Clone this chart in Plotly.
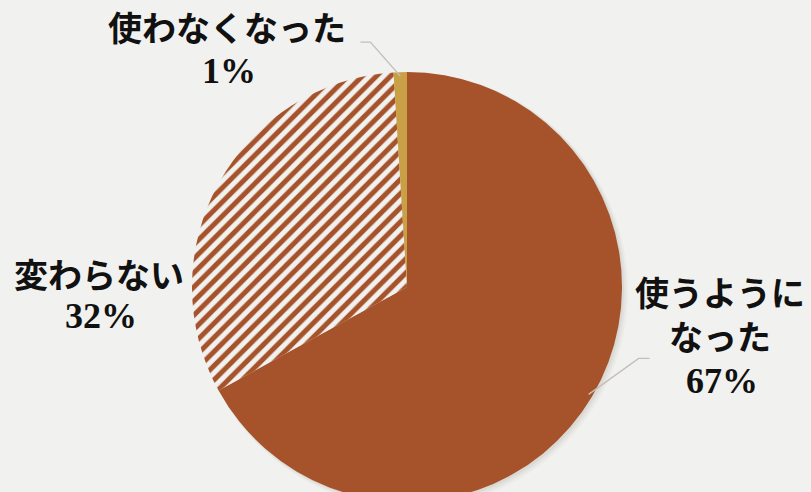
import math
import plotly.graph_objects as go

# ---- data ----
categories = ["使うようになった", "変わらない", "使わなくなった"]
label_names = ["使うように<br>なった", "変わらない", "使わなくなった"]
values = [67, 32, 1]
pct_labels = ["67%", "32%", "1%"]

# ---- styling ----
W, H = 811, 502          # figure slightly taller than the 492 window: pie is cut at bottom
BROWN = "#A6522A"
GOLD = "#C9A045"
BG = "#F1F1EF"
JP_FONT = "Noto Sans CJK JP"
NUM_FONT = "Liberation Serif"

cx, cy, R = 407, 287, 215  # pixel centre / radius of pie

def px(x):
    return x / W

def py(y):
    return 1 - y / H

fig = go.Figure()

# soft shadow behind the pie
for k, op in [(6, 0.035), (4, 0.05), (2, 0.07)]:
    fig.add_shape(type="circle", xref="paper", yref="paper", layer="below",
                  x0=px(cx - R + 2), x1=px(cx + R + k), y0=py(cy + R + k), y1=py(cy - R + 1),
                  fillcolor=f"rgba(90,80,70,{op})", line=dict(width=0))

fig.add_trace(go.Pie(
    labels=categories,
    values=values,
    sort=False,
    direction="clockwise",
    rotation=0,
    textinfo="none",
    hoverinfo="label+percent",
    showlegend=False,
    domain=dict(x=[px(cx - R), px(cx + R)], y=[py(cy + R), py(cy - R)]),
    marker=dict(
        colors=[BROWN, "#FFFFFF", GOLD],
        line=dict(width=0),
        pattern=dict(shape=["", "/", ""], fgcolor=BROWN, size=10, solidity=0.5),
    ),
))

# mid angles of slices (clockwise from 12 o'clock)
total = sum(values)
mids = []
acc = 0
for v in values:
    mids.append((acc + v / 2) / total * 2 * math.pi)
    acc += v

def edge_point(i, inset=0):
    a = mids[i]
    return cx + (R - inset) * math.sin(a), cy - (R - inset) * math.cos(a)

# leader lines: (slice index, elbow offset dx, dy, horizontal tail)
leaders = [(0, 50, -36, 11), (2, -30, -34, -10)]
for i, dx, dy, tail in leaders:
    x0, y0 = edge_point(i, inset=4)
    x1, y1 = x0 + dx, y0 + dy
    x2 = x1 + tail
    path = f"M {px(x0)},{py(y0)} L {px(x1)},{py(y1)} L {px(x2)},{py(y1)}"
    fig.add_shape(type="path", path=path, xref="paper", yref="paper",
                  line=dict(color="#C4BFB8", width=1.4))

# label positions (pixel centres): x, centre y of name block, centre y of percent
label_pos = [
    (720, 313, 381),   # 使うようになった
    (99, 273, 316),    # 変わらない
    (227, 27, 71),     # 使わなくなった
]
for i, (x, yname, ypct) in enumerate(label_pos):
    fig.add_annotation(x=px(x), y=py(yname), xref="paper", yref="paper",
                       text=f"<b>{label_names[i]}</b>", showarrow=False,
                       font=dict(family=JP_FONT, size=34, color="#111111"),
                       xanchor="center", yanchor="middle", align="center")
    fig.add_annotation(x=px(x + 2), y=py(ypct), xref="paper", yref="paper",
                       text=f"<b>{pct_labels[i]}</b>", showarrow=False,
                       font=dict(family=NUM_FONT, size=36, color="#111111"),
                       xanchor="center", yanchor="middle")

fig.update_layout(
    width=W, height=H,
    margin=dict(l=0, r=0, t=0, b=0),
    paper_bgcolor=BG, plot_bgcolor=BG,
)
fig.write_html(
    "out.html",
    config={"displayModeBar": False},
    post_script=(
        "document.body.style.margin='0';"
        "document.body.style.overflow='hidden';"
        "document.body.style.background='%s';" % BG
    ),
)
